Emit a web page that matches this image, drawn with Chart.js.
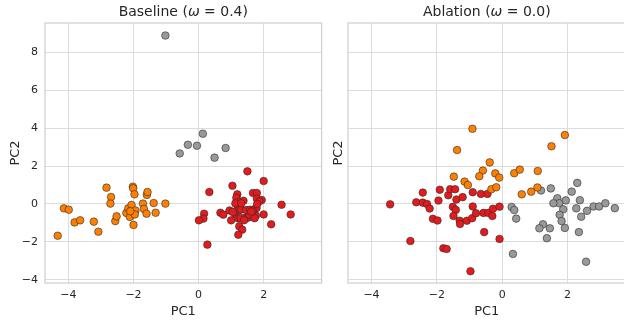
<!DOCTYPE html>
<html>
<head>
<meta charset="utf-8">
<script src="https://cdn.jsdelivr.net/npm/chart.js@4/dist/chart.umd.min.js"></script>
<style>
  body { margin: 0; background: #fff; overflow: hidden; }
  #wrap { position: relative; width: 624px; height: 320px; overflow: hidden; }
  canvas { position: absolute; top: 0; }
</style>
</head>
<body>
<div id="wrap">
  <canvas id="baselineChart" width="326" height="320" style="left:0"></canvas>
  <canvas id="ablationChart" width="304" height="320" style="left:326px"></canvas>
</div>
<script>
// Axis ticks (shared by both panels)
const xTicks = [-4, -2, 0, 2];
const yTicks = [-4, -2, 0, 2, 4, 6, 8];

// Baseline (omega = 0.4) clusters, [PC1, PC2]
const baselineOrange = [
    [-4.33, -1.67], [-4.14, -0.23], [-3.99, -0.30], [-3.81, -0.97], [-3.64, -0.86],
    [-3.22, -0.93], [-3.08, -1.46], [-2.83, 0.86], [-2.69, 0.37], [-2.71, 0.02],
    [-2.56, -0.90], [-2.52, -0.65], [-2.22, -0.47], [-2.16, -0.23], [-2.11, -0.68],
    [-2.06, -0.05], [-2.02, 0.91], [-2.01, 0.83], [-1.97, 0.51], [-2.00, -1.10],
    [-1.94, -0.34], [-1.96, -0.55], [-1.71, 0.02], [-1.68, -0.26], [-1.60, -0.51],
    [-1.59, 0.48], [-1.57, 0.63], [-1.38, 0.05], [-1.32, -0.46], [-1.02, 0.02],
    [-2.10, -0.38]
];
const baselineGray = [
    [-1.02, 8.87], [0.13, 3.70], [-0.33, 3.12], [-0.05, 3.07], [-0.58, 2.66],
    [0.49, 2.44], [0.83, 2.95]
];
const baselineRed = [
    [1.50, 1.72], [2.00, 1.21], [1.04, 0.96], [0.33, 0.63], [1.67, 0.58],
    [1.79, 0.58], [1.19, 0.51], [1.16, 0.33], [1.26, 0.11], [1.38, 0.17],
    [1.79, 0.28], [1.94, 0.21], [1.87, 0.14], [2.55, -0.04], [2.83, -0.55],
    [2.23, -1.07], [2.00, -0.55], [0.17, -0.51], [0.15, -0.77], [0.01, -0.86],
    [0.27, -2.14], [0.67, -0.46], [0.76, -0.56], [0.95, -0.34], [1.00, -0.86],
    [1.12, -0.51], [1.20, -0.24], [1.26, -0.32], [1.31, -0.29], [1.22, -0.76],
    [1.29, -0.74], [1.25, -1.18], [1.34, -1.35], [1.22, -1.62], [1.44, -0.72],
    [1.52, -0.72], [1.56, -0.56], [1.46, -0.32], [1.58, -0.30], [1.73, -0.26],
    [1.78, -0.21], [1.76, -0.61], [1.72, -0.75], [1.80, 0.00], [1.13, 0.03],
    [1.31, 0.04], [1.66, -0.35], [1.05, -0.42], [1.40, -0.85], [1.62, -0.40]
];

// Ablation (omega = 0.0) clusters, [PC1, PC2]
const ablationOrange = [
    [-0.91, 3.96], [1.92, 3.63], [1.51, 3.04], [-1.38, 2.84], [-0.38, 2.19],
    [-0.59, 1.76], [-0.70, 1.46], [-0.21, 1.61], [-0.09, 1.39], [-1.48, 1.44],
    [-1.15, 1.18], [-1.05, 1.00], [-0.33, 0.78], [-0.18, 0.88], [0.37, 1.62],
    [0.54, 1.81], [1.09, 1.74], [1.08, 0.87], [0.89, 0.65], [0.60, 0.51]
];
const ablationGray = [
    [1.19, 0.71], [1.49, 0.82], [2.30, 1.11], [2.13, 0.65], [1.69, 0.30],
    [1.75, 0.04], [1.57, 0.04], [1.95, 0.19], [2.38, 0.20], [1.87, -0.28],
    [1.76, -0.57], [1.82, -0.90], [1.92, -1.26], [2.27, -0.23], [2.60, -0.36],
    [2.42, -0.67], [2.35, -1.48], [2.80, -0.13], [2.97, -0.13], [3.16, 0.04],
    [3.45, -0.22], [0.29, -0.16], [0.37, -0.32], [0.43, -0.77], [1.25, -1.07],
    [1.14, -1.28], [1.46, -1.28], [1.37, -1.80], [0.33, -2.63], [2.57, -3.04]
];
const ablationRed = [
    [-3.43, -0.02], [-2.81, -1.95], [-2.63, 0.09], [-2.43, 0.60], [-2.43, 0.07],
    [-2.30, 0.00], [-2.22, -0.24], [-2.12, -0.78], [-1.98, -0.87], [-1.95, 0.18],
    [-1.91, 0.75], [-1.80, -2.33], [-1.70, -2.37], [-1.65, 0.46], [-1.59, 0.78],
    [-1.44, 0.78], [-1.51, -0.15], [-1.40, 0.24], [-1.21, 0.36], [-1.42, -0.31],
    [-1.49, -0.63], [-1.30, -0.88], [-1.29, -1.05], [-1.08, -0.88], [-0.92, -0.75],
    [-0.90, -0.13], [-0.80, -0.49], [-0.90, 0.62], [-0.65, 0.53], [-0.45, 0.53],
    [-0.57, -0.47], [-0.42, -0.47], [-0.30, -0.63], [-0.28, -0.25], [-0.08, -0.14],
    [-0.55, -1.48], [-0.08, -1.84], [-0.97, -3.54]
];

// Set1-like colours
const colors = {
    red: '#e41a1c',
    orange: '#ff7f00',
    gray: '#999999',
    edge: '#2b2b2b',
    grid: '#dcdcdc',
    text: '#262626'
};

const FONT = '"DejaVu Sans", sans-serif';

// Panel frame + title (with italic omega) centred over the plot area
const panelFrame = {
    id: 'panelFrame',
    beforeDatasetsDraw(chart, args, opts) {
        const { ctx, chartArea: a } = chart;
        ctx.save();
        ctx.strokeStyle = '#cfcfcf';
        ctx.lineWidth = 1.25;
        ctx.strokeRect(a.left, a.top, a.right - a.left, a.bottom - a.top);

        const parts = [
            { t: opts.name + ' (', f: '14px ' + FONT },
            { t: '\u03c9', f: 'italic 14px ' + FONT },
            { t: ' = ' + opts.value + ')', f: '14px ' + FONT }
        ];
        let total = 0;
        parts.forEach(p => { ctx.font = p.f; p.w = ctx.measureText(p.t).width; total += p.w; });
        let x = (a.left + a.right) / 2 - total / 2;
        ctx.fillStyle = colors.text;
        ctx.textAlign = 'left';
        ctx.textBaseline = 'middle';
        parts.forEach(p => { ctx.font = p.f; ctx.fillText(p.t, x, 12); x += p.w; });
        ctx.restore();
    }
};

function toPoints(pairs) {
    return pairs.map(p => ({ x: p[0], y: p[1] }));
}

function makeDataset(pairs, color) {
    return {
        data: toPoints(pairs),
        backgroundColor: color,
        borderColor: colors.edge,
        borderWidth: 0.6,
        pointRadius: 3.8,
        pointHoverRadius: 3.8
    };
}

function initPanel(canvasId, name, value, orange, red, gray, showYTicks, yWidth, yTitlePad, rightPad) {
    const ctx = document.getElementById(canvasId).getContext('2d');
    new Chart(ctx, {
        type: 'scatter',
        data: {
            datasets: [
                makeDataset(orange, colors.orange),
                makeDataset(gray, colors.gray),
                makeDataset(red, colors.red)
            ]
        },
        plugins: [panelFrame],
        options: {
            responsive: false,
            animation: false,
            devicePixelRatio: 1,
            layout: { padding: { top: 23, right: rightPad, left: 0, bottom: 0 } },
            plugins: {
                legend: { display: false },
                tooltip: { enabled: false },
                panelFrame: { name: name, value: value }
            },
            scales: {
                x: {
                    type: 'linear',
                    min: -4.72,
                    max: 3.78,
                    afterBuildTicks: s => { s.ticks = xTicks.map(v => ({ value: v })); },
                    afterFit: s => { s.height = 37; },
                    grid: { color: colors.grid, lineWidth: 1, drawTicks: false },
                    border: { display: false },
                    ticks: { color: colors.text, padding: 6, font: { family: FONT, size: 11 },
                             callback: v => String(v).replace('-', '\u2212') },
                    title: { display: true, text: 'PC1', color: colors.text,
                             font: { family: FONT, size: 13 }, padding: { top: 0, bottom: 1 } }
                },
                y: {
                    type: 'linear',
                    min: -4.16,
                    max: 9.53,
                    afterBuildTicks: s => { s.ticks = yTicks.map(v => ({ value: v })); },
                    afterFit: s => { s.width = yWidth; },
                    grid: { color: colors.grid, lineWidth: 1, drawTicks: false },
                    border: { display: false },
                    ticks: { display: showYTicks, color: colors.text, padding: 7,
                             font: { family: FONT, size: 11 },
                             callback: v => String(v).replace('-', '\u2212') },
                    title: { display: true, text: 'PC2', color: colors.text,
                             font: { family: FONT, size: 13 }, padding: { top: yTitlePad, bottom: 0 } }
                }
            }
        }
    });
}

initPanel('baselineChart', 'Baseline', '0.4', baselineOrange, baselineRed, baselineGray, true, 45, 8, 3);
initPanel('ablationChart', 'Ablation', '0.0', ablationOrange, ablationRed, ablationGray, false, 22, 5, 4);
</script>
</body>
</html>
